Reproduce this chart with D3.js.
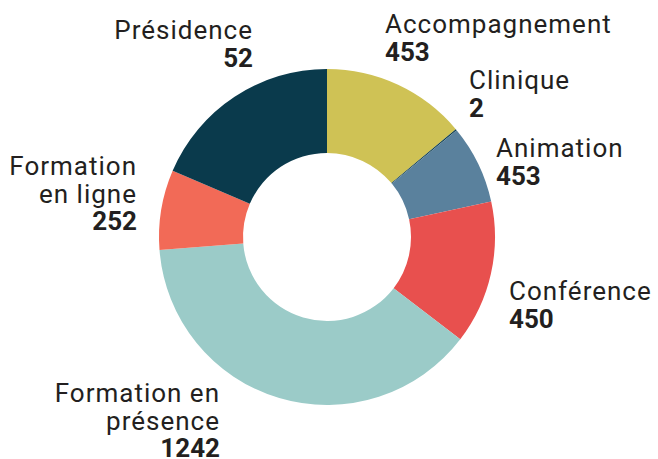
<!DOCTYPE html>
<html>
<head>
<meta charset="utf-8">
<script src="https://cdn.jsdelivr.net/npm/d3@7"></script>
<style>
  html, body { margin: 0; padding: 0; background: #fff; }
  #chart { width: 658px; height: 459px; }
</style>
</head>
<body>
<div id="chart"></div>
<script>
// categories, in drawing order (clockwise from 12 o'clock)
const categories = ["Accompagnement", "Clinique", "Animation", "Conférence", "Formation en présence", "Formation en ligne", "Présidence"];
// printed values
const labelValues = [453, 2, 453, 450, 1242, 252, 52];
const sliceValues = [453, 4, 247, 450, 1249, 251, 604];
const colors = ["#cfc255", "#0a3a4c", "#5a819d", "#e8504e", "#9bcbc8", "#f26a57", "#0a3a4c"];

// label text lines + placement
const labelLines = [["Accompagnement"], ["Clinique"], ["Animation"], ["Conférence"], ["Formation en", "présence"], ["Formation", "en ligne"], ["Présidence"]];
const labelPos = [
  { x: 385, y: 33, anchor: "start" },
  { x: 469, y: 89, anchor: "start" },
  { x: 496, y: 157, anchor: "start" },
  { x: 509, y: 300, anchor: "start" },
  { x: 220, y: 402, anchor: "end" },
  { x: 137, y: 175, anchor: "end" },
  { x: 253, y: 39, anchor: "end" },
];

const width = 658, height = 459;
const cx = 327, cy = 237, outerR = 168, innerR = 84;
const lineH = 27.5;

const svg = d3.select("#chart")
  .append("svg")
  .attr("width", width)
  .attr("height", height);

const pie = d3.pie().sort(null).value((d) => d);
const arc = d3.arc().innerRadius(innerR).outerRadius(outerR);

const g = svg.append("g").attr("transform", `translate(${cx},${cy})`);

g.selectAll("path")
  .data(pie(sliceValues))
  .enter()
  .append("path")
  .attr("d", arc)
  .attr("fill", (d, i) => colors[i]);

// labels: one text per line
categories.forEach((name, i) => {
  const p = labelPos[i];
  const lines = labelLines[i].map((l) => ({ text: l, bold: false }))
    .concat([{ text: String(labelValues[i]), bold: true }]);
  svg.selectAll(null)
    .data(lines)
    .enter()
    .append("text")
    .attr("x", p.x)
    .attr("y", (d, k) => p.y + k * lineH)
    .attr("text-anchor", p.anchor)
    .style("font-family", "Roboto, 'Noto Sans', sans-serif")
    .style("font-size", "26px")
    .style("font-weight", (d) => (d.bold ? 700 : 400))
    .style("letter-spacing", (d) => (d.bold ? "0px" : "1px"))
    .attr("fill", "#231f20")
    .text((d) => d.text);
});
</script>
</body>
</html>
